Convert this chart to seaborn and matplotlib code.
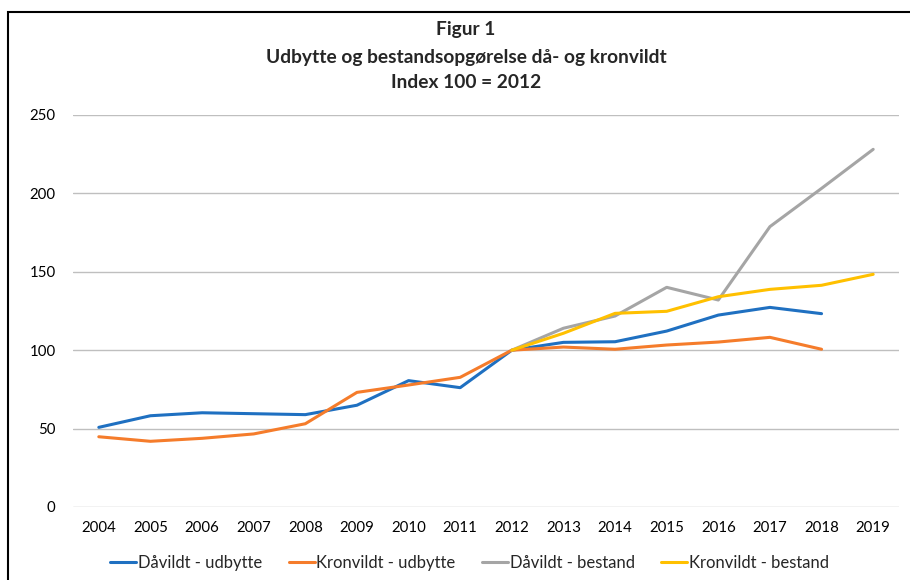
import numpy as np
import pandas as pd
import matplotlib
matplotlib.use("Agg")
import matplotlib.pyplot as plt
import matplotlib.patches as mpatches
import seaborn as sns

years = list(range(2004, 2020))
daa_udbytte = [50.8, 58.2, 60.1, 59.5, 58.9, 64.9, 80.6, 76.1, 100, 105.0, 105.4, 112.2, 122.4, 127.3, 123.3, np.nan]
kron_udbytte = [44.8, 41.9, 43.8, 46.6, 53.1, 73.1, 77.8, 82.7, 100, 102.0, 100.6, 103.3, 105.2, 108.2, 100.6, np.nan]
daa_bestand = [np.nan] * 8 + [100, 114.0, 121.8, 140.1, 132.0, 178.8, 203.2, 228.1]
kron_bestand = [np.nan] * 8 + [100, 110.8, 123.5, 124.8, 134.1, 138.8, 141.4, 148.4]

series = ["Dåvildt - udbytte", "Kronvildt - udbytte", "Dåvildt - bestand", "Kronvildt - bestand"]
colors = ["#1F70C1", "#F57C2B", "#A5A5A5", "#FFC000"]

df = pd.DataFrame({"År": years,
                   series[0]: daa_udbytte,
                   series[1]: kron_udbytte,
                   series[2]: daa_bestand,
                   series[3]: kron_bestand})
long = df.melt(id_vars="År", var_name="Serie", value_name="Index").dropna()

sns.set_theme(style="white")
plt.rcParams["font.family"] = ["Lato", "DejaVu Sans"]

fig = plt.figure(figsize=(9.1, 5.8), dpi=100)
ax = fig.add_axes([73 / 910, 1 - 507 / 580, 826 / 910, 392 / 580])

sns.lineplot(data=long, x="År", y="Index", hue="Serie", hue_order=series,
             palette=colors, linewidth=2.2, ax=ax, legend=False)

ax.set_xlim(2003.5, 2019.5)
ax.set_ylim(0, 250)
ax.set_xticks(years)
ax.set_xticklabels([str(y) for y in years])
ax.set_yticks([0, 50, 100, 150, 200, 250])
ax.yaxis.grid(True, color="#BFBFBF", lw=1)
ax.set_axisbelow(True)
for s in ax.spines.values():
    s.set_visible(False)
ax.tick_params(axis="both", length=0, labelsize=10.8, colors="black")
ax.tick_params(axis="x", pad=10)
ax.tick_params(axis="y", pad=12.5)
ax.set_xlabel(""); ax.set_ylabel("")

title_kw = dict(ha="center", va="center", fontsize=13.8, fontweight="bold")
fig.text(0.512, 1 - 30 / 580, "Figur 1", **title_kw)
fig.text(0.512, 1 - 57 / 580, "Udbytte og bestandsopgørelse då- og kronvildt", **title_kw)
fig.text(0.512, 1 - 83 / 580, "Index 100 = 2012", **title_kw)

handles = [plt.Line2D([], [], color=c, lw=2.2) for c in colors]
fig.legend(handles, series, loc="center", bbox_to_anchor=(0.516, 1 - 563 / 580), ncol=4,
           frameon=False, fontsize=12, handlelength=1.55, handletextpad=0.1, columnspacing=1.6)

fig.patches.append(mpatches.Rectangle((8 / 910, -0.05), 1.2, 1.05 - 12 / 580, fill=False,
                                      edgecolor="black", lw=1.5, transform=fig.transFigure, figure=fig))

fig.savefig("out.png", dpi=100, facecolor="white")
